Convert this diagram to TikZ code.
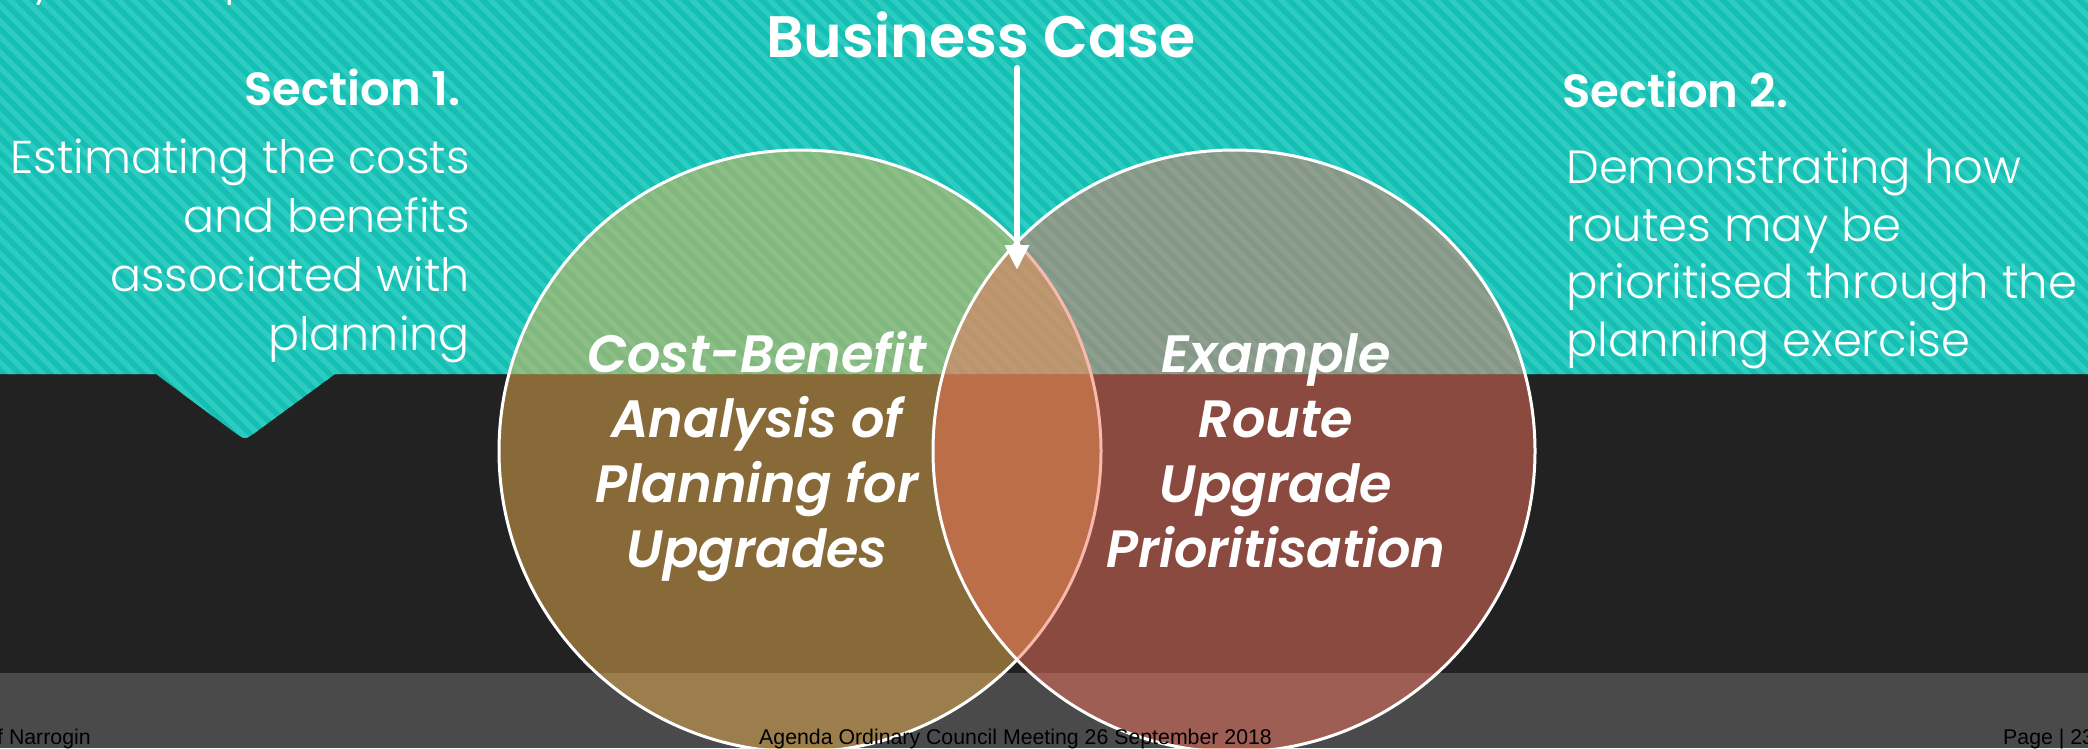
\documentclass[tikz,border=0pt]{standalone}
\usepackage{fontspec}
\usetikzlibrary{arrows.meta}
\setmainfont{Poppins}
\IfFontExistsTF{Poppins Light}{\newfontfamily\lightfont{Poppins Light}}{\newfontfamily\lightfont{Poppins}}
\IfFontExistsTF{Poppins SemiBold}{\newfontfamily\headfont{Poppins SemiBold}}{\def\headfont{\bfseries}}
\IfFontExistsTF{Poppins SemiBold Italic}{\newfontfamily\headitfont{Poppins SemiBold Italic}}{\def\headitfont{\bfseries\itshape}}
\newfontfamily\footfont{Liberation Sans}
\definecolor{tealA}{HTML}{15BFB3}
\definecolor{tealB}{HTML}{2CCCC1}
\definecolor{bandblack}{HTML}{222222}
\definecolor{bandgray}{HTML}{4A4A4A}
\definecolor{goldc}{RGB}{236,178,76}
\definecolor{redc}{RGB}{242,114,92}
\tikzset{
  venn/.style={circle, minimum size=602pt, inner sep=0pt, draw=white, line width=3pt, fill opacity=0.5},
  bodytext/.style={text=white, inner sep=0pt, font=\lightfont\fontsize{46}{59}\selectfont},
  bodytextb/.style={text=white, inner sep=0pt, font=\lightfont\fontsize{46.5}{57.5}\selectfont},
  sectext/.style={text=white, inner sep=0pt, font=\headfont\fontsize{46.5}{46.5}\selectfont},
  circtext/.style={text=white, inner sep=0pt, align=center, font=\headitfont\fontsize{52.5}{65}\selectfont},
  foottext/.style={text=black, inner sep=0pt, anchor=base west, font=\footfont\fontsize{21.3}{21.3}\selectfont},
}
\begin{document}
\begin{tikzpicture}[x=1pt,y=-1pt]
\useasboundingbox (0,0) rectangle (2088,748);
\begin{scope}
\clip (0,0) rectangle (2088,748);
% bands
\fill[bandgray] (0,673) rectangle (2088,748);
\fill[bandblack] (0,374) rectangle (2088,673);
% teal striped region with callout
\fill[tealA, path picture={
    \foreach \k in {-32,...,140} \draw[tealB, line width=5.3pt] (\k*15.5,-10) -- (\k*15.5+470,460);
  }]
  (0,0) -- (2088,0) -- (2088,374) -- (335,374) -- (256.3,431.7)
  .. controls (245,440) .. (233.7,431.7) -- (156,374) -- (0,374) -- cycle;
% fragments of text cut off at the top
\node[bodytext, anchor=base west] (fragy) at (30,-7) {y};
\node[bodytext, anchor=base west] (fragp) at (224,-7) {p};
% venn circles
\node[venn, fill=goldc] (lc) at (800,451) {};
\node[venn, fill=redc] (rc) at (1234,451) {};
\end{scope}
% headings
\node[text=white, inner sep=0pt, anchor=base, font=\headfont\fontsize{58.5}{58.5}\selectfont] (bc) at (981,57) {Business Case};
\node[sectext, anchor=base east] (s1) at (461,105) {Section 1.};
\node[sectext, anchor=base west] (s2) at (1562,107) {Section 2.};
\node[bodytext, anchor=base east, align=right] (b1) at (470,350) {Estimating the costs\\and benefits\\associated with\\planning};
\node[bodytextb, anchor=base west, align=left] (b2) at (1566,356) {Demonstrating how\\routes may be\\prioritised through the\\planning exercise};
% arrow
\coordinate (atop) at (1017,68);
\coordinate (atip) at (1017,270);
\draw[white, line width=6pt, line cap=round, -{Triangle[width=23pt,length=25pt]}] (atop) -- (atip);
% circle texts
\node[circtext, anchor=base] (lt) at (757,567) {Cost-Benefit\\Analysis of\\Planning for\\Upgrades};
\node[circtext, anchor=base] (rt) at (1276,567) {Example\\Route\\Upgrade\\Prioritisation};
% footer
\begin{scope}
\clip (0,0) rectangle (2088,748);
\node[foottext] (f1) at (-3,744) {f Narrogin};
\node[foottext] (f2) at (759,744) {Agenda Ordinary Council Meeting 26 September 2018};
\node[foottext] (f3) at (2003,744) {Page | 23};
\end{scope}
\end{tikzpicture}
\end{document}
